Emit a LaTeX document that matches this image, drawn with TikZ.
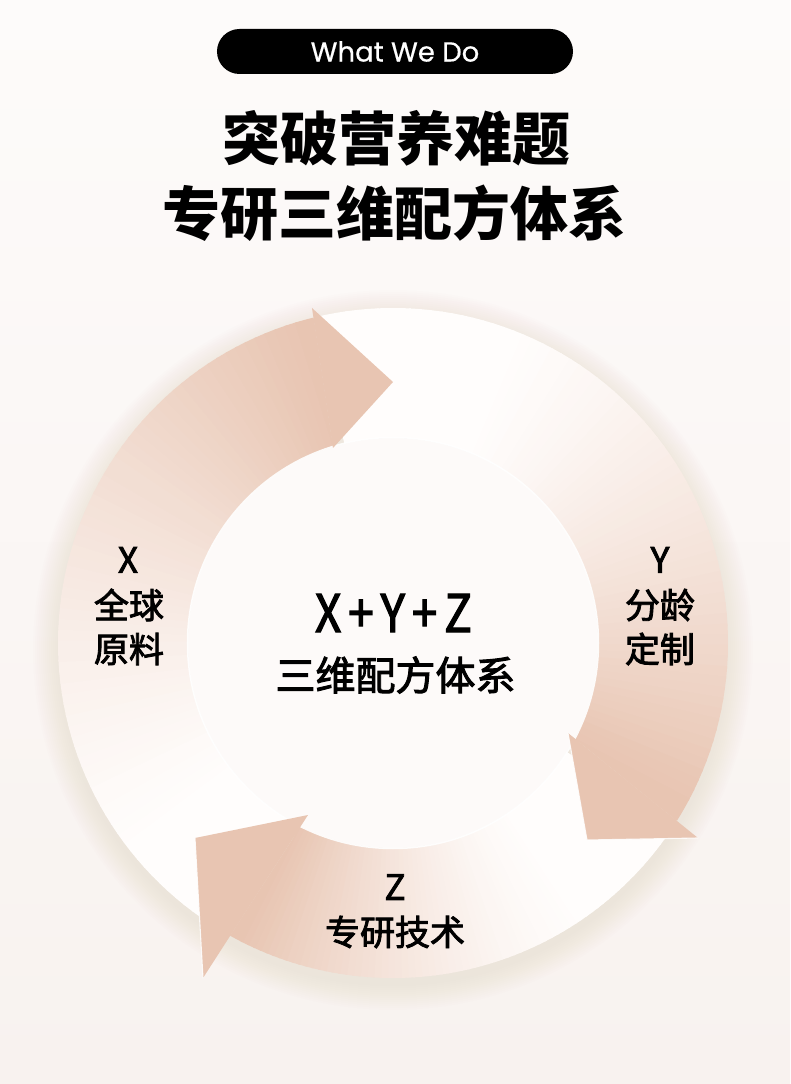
\documentclass[tikz,border=0pt]{standalone}
\usepackage{fontspec}
\setmainfont{Noto Sans CJK SC}
\newfontfamily\cjkt{Noto Sans CJK SC}
\newfontfamily\cjk[FakeBold=2.4]{Noto Sans CJK SC}
\newfontfamily\cjkcond[FakeStretch=0.88,FakeBold=2.4]{Noto Sans CJK SC}
\newfontfamily\pillfont[FakeBold=0.6]{Poppins}

\definecolor{bgtop}{HTML}{FDFBFA}
\definecolor{bgbot}{HTML}{F8F2EF}
\definecolor{pinkA}{HTML}{E8C5B2}
\definecolor{tailc}{HTML}{FFFDFC}
\definecolor{shadowc}{HTML}{C09C8B}
\definecolor{discc}{HTML}{FDFAF9}
\definecolor{rimc}{HTML}{EAD7CC}

\pgfdeclareradialshading{innerdisc}{\pgfpoint{0bp}{0bp}}{color(0bp)=(discc); color(44.5bp)=(discc); color(50bp)=(rimc); color(52bp)=(rimc)}

% gradient band: #1 start angle, #2 end angle (clockwise), #3 t0, #4 exponent
\newcommand{\gradarc}[4]{%
  \foreach \k in {0,...,71}{%
    \pgfmathsetmacro{\angA}{#1-(#1-(#2))*\k/72}%
    \pgfmathsetmacro{\angB}{#1-(#1-(#2))*(\k+1)/72-0.35}%
    \pgfmathsetmacro{\tpos}{(\k+0.5)/72}%
    \pgfmathtruncatemacro{\pct}{100*(max(0.0005,(\tpos-#3)/(1-#3)))^#4}%
    \fill[pinkA!\pct!tailc] (\angA:205) arc[start angle=\angA, end angle=\angB, radius=205]
       -- (\angB:335) arc[start angle=\angB, end angle=\angA, radius=335] -- cycle;
  }}

\tikzset{
  headfill/.style={fill=pinkA},
  headedge/.style={draw=white, line width=1.1pt, opacity=0.85, line cap=round},
  lbl/.style={font=\cjk\fontsize{35}{35}\selectfont, text=black, inner sep=0pt},
  ctr/.style={font=\cjk\fontsize{40}{40}\selectfont, text=black, inner sep=0pt},
  ttl/.style={font=\cjkt\bfseries\fontsize{58}{58}\selectfont, text=black, inner sep=0pt}
}

\begin{document}
\begin{tikzpicture}[x=1pt,y=1pt]
\useasboundingbox (-393,-441) rectangle (397,643);
\shade[top color=bgtop, bottom color=bgbot] (-393,-441) rectangle (397,643);

% header pill and title
\node (pill) [fill=black, rounded corners=22.5pt, minimum width=356pt, minimum height=45pt,
  text=white, font=\pillfont\fontsize{27.5}{27.5}\selectfont, inner sep=0pt] at (2,591.5) {What We Do};
\node (t1) [ttl] at (3.5,505) {突破营养难题};
\node (t2) [ttl] at (2,430) {专研三维配方体系};

% soft outer shadow
\foreach \r in {1,3,...,25}{\fill[shadowc, opacity=0.013] (0,-7) circle (335+\r);}

% arrow bodies
\gradarc{240.9}{107}{0.15}{1.3}
\fill[pinkA] (107:205) -- (103.7:335) arc[start angle=103.7, end angle=107, radius=335] -- cycle;
\gradarc{103.7}{-27.7}{0.25}{1.3}
\fill[pinkA] (-27.7:205) -- (-32.1:335) arc[start angle=-32.1, end angle=-27.7, radius=335] -- cycle;
\gradarc{-32.1}{-116.7}{0.25}{1.5}
\fill[pinkA] (-116.7:205) -- (-119.1:335) arc[start angle=-119.1, end angle=-116.7, radius=335] -- cycle;

% inner disc
\shade[shading=innerdisc] (0,0) circle (205);
\draw[white, line width=1.5pt, opacity=0.9] (0,0) circle (205.5);

% arrow heads
\coordinate (xi) at (-60,195);  \coordinate (xt) at (0,261);    \coordinate (xo) at (-81,335);
\coordinate (yi) at (175,-90);  \coordinate (yt) at (194,-197); \coordinate (yo) at (305,-195);
\coordinate (zi) at (-85,-172); \coordinate (zt) at (-198,-195);\coordinate (zo) at (-190,-335);
\fill[headfill] (xi) -- (xt) -- (xo) -- cycle;
\fill[headfill] (yi) -- (yt) -- (yo) -- cycle;
\fill[headfill] (zi) -- (zt) -- (zo) -- cycle;
\draw[headedge] (yi) -- (yt) -- (yo);
\draw[headedge] (zt) -- (zo);

% centre text
\node (xyz) [font=\cjkcond\fontsize{52}{52}\selectfont, inner sep=0pt] at (0.5,30)
  {X\hspace{7pt}+\hspace{7pt}Y\hspace{7pt}+\hspace{7pt}Z};
\node (sys) [ctr] at (2.5,-32) {三维配方体系};

% labels
\node (xl1) [lbl] at (-265,83) {X};
\node (xl2) [lbl] at (-264,38) {全球};
\node (xl3) [lbl] at (-264,-6) {原料};
\node (yl1) [lbl] at (267,83) {Y};
\node (yl2) [lbl] at (267,38) {分龄};
\node (yl3) [lbl] at (267,-6) {定制};
\node (zl1) [lbl] at (2,-244) {Z};
\node (zl2) [lbl] at (2,-289) {专研技术};
\end{tikzpicture}
\end{document}
